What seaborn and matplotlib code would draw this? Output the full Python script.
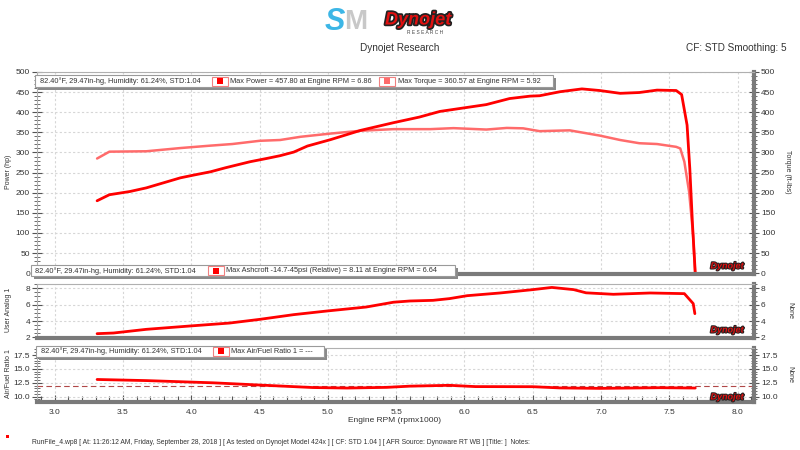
import matplotlib
matplotlib.use("Agg")
import matplotlib.pyplot as plt
import seaborn as sns
import pandas as pd
from matplotlib.patches import Rectangle
from matplotlib.ticker import MultipleLocator
import matplotlib.patheffects as pe

# ---------------- data ----------------
power_rpm = [3.31, 3.40, 3.55, 3.67, 3.80, 3.92, 4.02, 4.14, 4.25, 4.43, 4.55, 4.65, 4.75, 4.85,
             5.02, 5.24, 5.48, 5.67, 5.82, 6.04, 6.16, 6.33, 6.48, 6.55, 6.70, 6.86, 6.99, 7.14,
             7.28, 7.41, 7.55, 7.59, 7.63, 7.65, 7.67, 7.69]
power_hp = [180, 195, 203, 212, 225, 237, 244, 252, 262, 277, 285, 292, 301, 316,
            332, 355, 374, 388, 402, 413, 419, 434, 440, 441, 451, 458, 454, 447,
            449, 455, 454, 444, 368, 260, 119, 0]

torque_rpm = [3.31, 3.40, 3.67, 3.92, 4.14, 4.30, 4.50, 4.65, 4.80, 5.02, 5.24, 5.48, 5.75,
              5.92, 6.16, 6.31, 6.43, 6.55, 6.77, 6.99, 7.14, 7.28, 7.41, 7.55, 7.58, 7.61,
              7.645, 7.674, 7.689]
torque_ftlb = [285, 302, 303, 311, 317, 321, 329, 331, 339, 347, 354, 358, 358,
               360.5, 357, 361, 360, 353, 355, 342, 331, 323, 321, 314, 310, 277,
               202, 95, 0]

analog_rpm = [3.31, 3.43, 3.67, 3.99, 4.28, 4.50, 4.75, 4.99, 5.28, 5.48, 5.60, 5.77, 5.89,
              6.02, 6.26, 6.50, 6.64, 6.80, 6.89, 7.09, 7.36, 7.61, 7.675, 7.687]
analog_val = [2.45, 2.53, 2.98, 3.39, 3.75, 4.20, 4.78, 5.22, 5.71, 6.30, 6.45, 6.53, 6.74,
              7.10, 7.43, 7.84, 8.11, 7.84, 7.45, 7.27, 7.43, 7.35, 6.13, 4.90]

afr_rpm = [3.31, 3.67, 4.16, 4.50, 4.89, 5.14, 5.43, 5.60, 5.89, 6.08, 6.50, 6.70, 6.99, 7.43, 7.69]
afr_val = [13.1, 12.9, 12.5, 12.1, 11.65, 11.56, 11.68, 11.9, 12.05, 11.82, 11.8, 11.58, 11.5, 11.62, 11.56]
afr_ref = 12.0

x_ticks = [3.0, 3.5, 4.0, 4.5, 5.0, 5.5, 6.0, 6.5, 7.0, 7.5, 8.0]

info = "82.40°F, 29.47in-hg, Humidity: 61.24%, STD:1.04"
leg_power = "Max Power = 457.80 at Engine RPM = 6.86"
leg_torque = "Max Torque = 360.57 at Engine RPM = 5.92"
leg_analog = "Max Ashcroft -14.7-45psi (Relative) = 8.11 at Engine RPM = 6.64"
leg_afr = "Max Air/Fuel Ratio 1 = ---"
footer = ("RunFile_4.wp8 [ At: 11:26:12 AM, Friday, September 28, 2018 ] [ As tested on Dynojet Model 424x ] "
          "[ CF: STD 1.04 ] [ AFR Source: Dynoware RT WB ] [Title: ]  Notes:")

# ---------------- style ----------------
sns.set_style("white")
plt.rcParams['font.family'] = ['Liberation Sans', 'DejaVu Sans']

W, H = 800, 450
fig = plt.figure(figsize=(8, 4.5), dpi=100)
fig.patch.set_facecolor("white")

RED = "#ff0000"
PINK = "#ff6b6b"
TXT = "#333333"


def fx(x):
    return x / W


def fy(y):
    return 1 - y / H


def add_ax(l, t, r, b):
    return fig.add_axes([l / W, 1 - b / H, (r - l) / W, (b - t) / H])


XL = (2.87, 8.12)


def style(ax, ylim, major, minor, xlabels=False):
    ax.set_xlim(*XL)
    ax.set_ylim(*ylim)
    ax.set_xticks(x_ticks)
    ax.xaxis.set_minor_locator(MultipleLocator(0.1))
    ax.yaxis.set_major_locator(MultipleLocator(major))
    ax.yaxis.set_minor_locator(MultipleLocator(minor))
    ax.grid(True, which="major", color="#d6d6d6", linestyle=(0, (2, 2)), linewidth=0.8)
    ax.set_axisbelow(True)
    for s in ["left", "top"]:
        ax.spines[s].set_color("#b0b0b0")
        ax.spines[s].set_linewidth(0.8)
    for s in ["bottom", "right"]:
        ax.spines[s].set_color("#7a7a7a")
        ax.spines[s].set_linewidth(3)
    ax.tick_params(axis="y", which="both", left=True, right=True, labelleft=True, labelright=True,
                   direction="inout", colors="#555555", labelcolor=TXT, labelsize=6, pad=1.5)
    ax.tick_params(axis="y", which="major", length=7, width=0.8)
    ax.tick_params(axis="y", which="minor", length=4, width=0.6)
    if xlabels:
        ax.tick_params(axis="x", which="both", bottom=True, direction="in", colors="#555555",
                       labelcolor=TXT, labelsize=6, pad=5)
        ax.tick_params(axis="x", which="major", length=5, width=0.8)
        ax.tick_params(axis="x", which="minor", length=4, width=0.8)
    else:
        ax.tick_params(axis="x", which="both", bottom=False, labelbottom=False)
    ax.set_xlabel("")
    ax.set_ylabel("")


ax1 = add_ax(37, 72, 754, 274)
ax2 = add_ax(37, 284, 754, 338)
ax3 = add_ax(37, 348, 754, 402)

style(ax1, (-2, 500), 50, 10)
style(ax2, (1.92, 8.53), 2, 0.5)
style(ax3, (9.05, 18.76), 2.5, 0.5, xlabels=True)
ax3.yaxis.set_major_formatter(matplotlib.ticker.FormatStrFormatter("%.1f"))

df_p = pd.DataFrame({"rpm": power_rpm, "val": power_hp})
df_t = pd.DataFrame({"rpm": torque_rpm, "val": torque_ftlb})
df_a = pd.DataFrame({"rpm": analog_rpm, "val": analog_val})
df_f = pd.DataFrame({"rpm": afr_rpm, "val": afr_val})

sns.lineplot(data=df_t, x="rpm", y="val", ax=ax1, color=PINK, lw=1.8, sort=False, estimator=None)
sns.lineplot(data=df_p, x="rpm", y="val", ax=ax1, color=RED, lw=2.0, sort=False, estimator=None)
sns.lineplot(data=df_a, x="rpm", y="val", ax=ax2, color=RED, lw=2.0, sort=False, estimator=None)
ax3.axhline(afr_ref, color="#b04848", lw=0.8, ls=(0, (5, 3)))
sns.lineplot(data=df_f, x="rpm", y="val", ax=ax3, color=RED, lw=2.0, sort=False, estimator=None)
for a in (ax1, ax2, ax3):
    a.set_xlabel("")
    a.set_ylabel("")

# axis labels
fig.text(fx(9), fy(172), "Power (hp)", rotation=90, ha="center", va="center", fontsize=5, color=TXT)
fig.text(fx(788), fy(172), "Torque (ft-lbs)", rotation=270, ha="center", va="center", fontsize=5, color=TXT)
fig.text(fx(9), fy(310), "User Analog 1", rotation=90, ha="center", va="center", fontsize=5, color=TXT)
fig.text(fx(790), fy(310), "None", rotation=270, ha="center", va="center", fontsize=5, color=TXT)
fig.text(fx(9), fy(374), "Air/Fuel Ratio 1", rotation=90, ha="center", va="center", fontsize=5, color=TXT)
fig.text(fx(790), fy(374), "None", rotation=270, ha="center", va="center", fontsize=5, color=TXT)
fig.text(fx(395), fy(421), "Engine RPM (rpmx1000)", ha="center", va="center", fontsize=6, color=TXT)


# legend boxes
def legend_box(x0, x1, yc, items):
    h = 11
    y0 = yc - h / 2
    fig.patches.append(Rectangle((fx(x0 + 3), fy(y0 + h + 3)), (x1 - x0) / W, h / H,
                                 transform=fig.transFigure, facecolor="#8a8a8a", edgecolor="none", zorder=20))
    fig.patches.append(Rectangle((fx(x0), fy(y0 + h)), (x1 - x0) / W, h / H,
                                 transform=fig.transFigure, facecolor="white", edgecolor="#9a9a9a",
                                 lw=0.8, zorder=21))
    for kind, xpos, content in items:
        if kind == "text":
            fig.text(fx(xpos), fy(yc + 0.5), content, ha="left", va="center", fontsize=5.35, color=TXT, zorder=22)
        else:
            fig.patches.append(Rectangle((fx(xpos), fy(y0 + h - 1)), 16 / W, (h - 2) / H,
                                         transform=fig.transFigure, facecolor="white",
                                         edgecolor="#f08080", lw=0.8, zorder=22))
            fig.patches.append(Rectangle((fx(xpos + 5), fy(yc + 3)), 6 / W, 6 / H,
                                         transform=fig.transFigure, facecolor=content,
                                         edgecolor="none", zorder=23))


legend_box(35, 553, 81, [("text", 40, info), ("mark", 212, RED), ("text", 230, leg_power),
                          ("mark", 379, PINK), ("text", 398, leg_torque)])
legend_box(31, 455, 270.5, [("text", 35, info), ("mark", 208, RED), ("text", 226, leg_analog)])
legend_box(36, 324, 351, [("text", 41, info), ("mark", 213, RED), ("text", 231, leg_afr)])

# dynojet watermarks
for yy in (266, 330, 397):
    fig.text(fx(727), fy(yy), "Dynojet", ha="center", va="center", fontsize=6.5, fontweight="bold",
             fontstyle="italic", color="#e01010", zorder=15,
             path_effects=[pe.withStroke(linewidth=1.5, foreground="#222222")])

# header
fig.text(fx(335), fy(22), "S", ha="center", va="center", fontsize=22, fontweight="bold",
         fontstyle="italic", color="#3cb6e6")
fig.text(fx(356), fy(22), "M", ha="center", va="center", fontsize=20, fontweight="bold",
         color="#c8c8c8")
fig.text(fx(418), fy(20), "Dynojet", ha="center", va="center", fontsize=13, fontweight="bold",
         fontstyle="italic", color="#e01010",
         path_effects=[pe.withStroke(linewidth=2.5, foreground="#222222")])
fig.text(fx(425), fy(32), "R E S E A R C H", ha="center", va="center", fontsize=3.5, color="#444444")
fig.text(fx(400), fy(48), "Dynojet Research", ha="center", va="center", fontsize=7.2, color=TXT)
fig.text(fx(787), fy(48), "CF: STD Smoothing: 5", ha="right", va="center", fontsize=7.2, color=TXT)

# footer
fig.patches.append(Rectangle((fx(6), fy(438)), 3 / W, 3 / H, transform=fig.transFigure,
                             facecolor=RED, edgecolor="none"))
fig.text(fx(32), fy(442), footer, ha="left", va="center", fontsize=4.9, color=TXT)

fig.savefig("out.png", dpi=100, facecolor="white")
